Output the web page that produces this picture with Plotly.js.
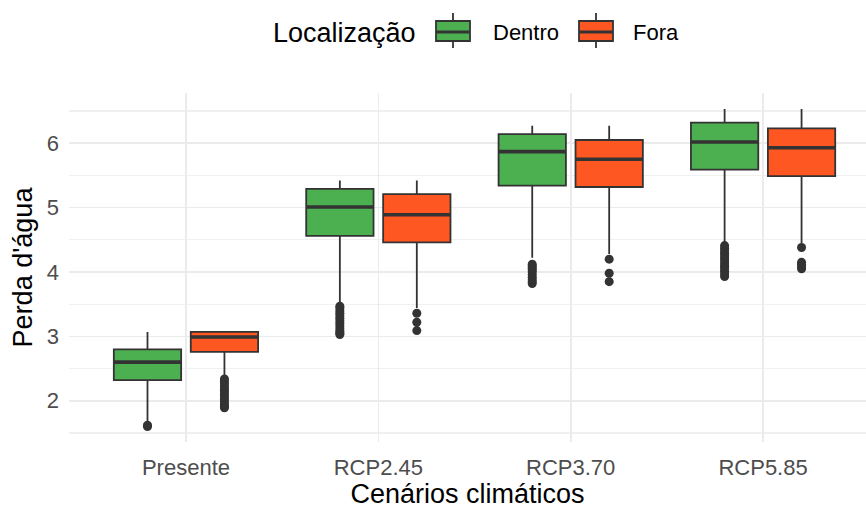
<!DOCTYPE html>
<html>
<head>
<meta charset="utf-8">
<script src="https://cdn.plot.ly/plotly-3.0.1.min.js"></script>
<style>
  html, body { margin: 0; padding: 0; background: #ffffff; }
  #chart { width: 866px; height: 509px; }
</style>
</head>
<body>
<div id="chart"></div>
<script>
// Climate scenarios on the x axis
const categories = ['Presente', 'RCP2.45', 'RCP3.70', 'RCP5.85'];
const seriesNames = ['Dentro', 'Fora'];
const legendTitle = 'Localização';

// Box statistics for "Dentro"
const dentroLower  = [1.68, 3.52, 4.22, 4.45];
const dentroQ1     = [2.32, 4.56, 5.34, 5.59];
const dentroMedian = [2.60, 5.01, 5.87, 6.02];
const dentroQ3     = [2.80, 5.29, 6.14, 6.32];
const dentroUpper  = [3.07, 5.42, 6.27, 6.53];
const dentroOutliers = [
  [1.60, 1.62],
  [3.47, 3.44, 3.40, 3.36, 3.32, 3.28, 3.24, 3.20, 3.16, 3.12, 3.08, 3.05, 3.03],
  [4.12, 4.09, 4.06, 4.03, 4.00, 3.96, 3.92, 3.88, 3.85, 3.82],
  [4.41, 4.37, 4.33, 4.29, 4.25, 4.21, 4.17, 4.13, 4.09, 4.05, 4.01, 3.97, 3.93]
];

// Box statistics for "Fora"
const foraLower  = [2.40, 3.44, 4.28, 4.45];
const foraQ1     = [2.76, 4.46, 5.32, 5.49];
const foraMedian = [2.99, 4.89, 5.75, 5.93];
const foraQ3     = [3.07, 5.21, 6.05, 6.23];
const foraUpper  = [3.08, 5.42, 6.27, 6.53];
const foraOutliers = [
  [2.34, 2.30, 2.26, 2.22, 2.18, 2.14, 2.10, 2.06, 2.02, 1.98, 1.94, 1.91, 1.89],
  [3.36, 3.22, 3.09],
  [4.20, 3.98, 3.85],
  [4.38, 4.15, 4.12, 4.08, 4.05]
];

const fills = ['#4CAF50', '#FF5722'];
const lineColor = '#333333';
const fontFamily = 'Liberation Sans, Arial, sans-serif';

// Plot area in pixels
const M = { l: 69, r: 0, t: 93, b: 67 };
const W = 866, H = 509;
const plotW = W - M.l - M.r, plotH = H - M.t - M.b;
const px = v => (v - M.l) / plotW;          // pixel x -> paper x
const py = v => (H - M.b - v) / plotH;      // pixel y -> paper y

// Grouped box geometry (matches boxgap / boxgroupgap below)
const boxGap = 0.2, boxGroupGap = 0.125;
const slotOffset = [-0.25 * (1 - boxGap), 0.25 * (1 - boxGap)];
const halfWidth = 0.5 * (1 - boxGap) * (1 - boxGroupGap) / 2;

function boxTrace(idx, lower, q1, med, q3, upper, pts) {
  return {
    type: 'box',
    name: seriesNames[idx],
    x: categories,
    y: pts,
    lowerfence: lower,
    q1: q1,
    median: med,
    q3: q3,
    upperfence: upper,
    boxpoints: 'all',
    jitter: 0,
    pointpos: 0,
    whiskerwidth: 0,
    fillcolor: fills[idx],
    line: { color: lineColor, width: 1.8 },
    marker: { color: lineColor, size: 9, line: { width: 0 } },
    showlegend: false,
    hoverinfo: 'skip'
  };
}

const traces = [
  boxTrace(0, dentroLower, dentroQ1, dentroMedian, dentroQ3, dentroUpper, dentroOutliers),
  boxTrace(1, foraLower, foraQ1, foraMedian, foraQ3, foraUpper, foraOutliers)
];

// Thick median bars on top of each box
const shapes = [];
[dentroMedian, foraMedian].forEach((meds, s) => {
  meds.forEach((m, i) => {
    const c = i + slotOffset[s];
    shapes.push({
      type: 'line', xref: 'x', yref: 'y',
      x0: c - halfWidth, x1: c + halfWidth, y0: m, y1: m,
      line: { color: lineColor, width: 3.6 }, layer: 'above'
    });
  });
});

// Legend keys drawn as small boxplots
const keyLeft = [436, 579];
const keyW = 34, keyTop = 21, keyBot = 41, keyMid = 32, whiskTop = 13, whiskBot = 48;
const annotations = [{
  text: legendTitle, xref: 'paper', yref: 'paper',
  x: px(271), y: py(33), xanchor: 'left', yanchor: 'middle', showarrow: false,
  font: { size: 27, family: fontFamily, color: '#000000' }
}];
const labelLeft = [491, 631];
seriesNames.forEach((nm, s) => {
  const x0 = keyLeft[s], xc = x0 + keyW / 2;
  shapes.push({ type: 'line', xref: 'paper', yref: 'paper', x0: px(xc), x1: px(xc), y0: py(whiskTop), y1: py(whiskBot), line: { color: lineColor, width: 1.8 } });
  shapes.push({ type: 'rect', xref: 'paper', yref: 'paper', x0: px(x0), x1: px(x0 + keyW), y0: py(keyTop), y1: py(keyBot), fillcolor: fills[s], line: { color: lineColor, width: 1.8 } });
  shapes.push({ type: 'line', xref: 'paper', yref: 'paper', x0: px(x0), x1: px(x0 + keyW), y0: py(keyMid), y1: py(keyMid), line: { color: lineColor, width: 3 } });
  annotations.push({
    text: nm, xref: 'paper', yref: 'paper',
    x: px(labelLeft[s]), y: py(33), xanchor: 'left', yanchor: 'middle', showarrow: false,
    font: { size: 22, family: fontFamily, color: '#000000' }
  });
});

const layout = {
  width: W,
  height: H,
  margin: M,
  paper_bgcolor: '#ffffff',
  plot_bgcolor: '#ffffff',
  font: { family: fontFamily, color: '#000000' },
  boxmode: 'group',
  boxgap: boxGap,
  boxgroupgap: boxGroupGap,
  showlegend: false,
  shapes: shapes,
  annotations: annotations,
  xaxis: {
    type: 'category',
    categoryorder: 'array',
    categoryarray: categories,
    range: [-0.608, 3.535],
    showgrid: true,
    gridcolor: '#EBEBEB',
    gridwidth: 1.6,
    zeroline: false,
    showline: false,
    ticks: '',
    ticklabelstandoff: 10,
    tickfont: { size: 22, color: '#4D4D4D', family: fontFamily },
    title: { text: 'Cenários climáticos', font: { size: 27, color: '#000000', family: fontFamily }, standoff: 12 }
  },
  yaxis: {
    range: [1.36, 6.78],
    tickvals: [2, 3, 4, 5, 6],
    showgrid: true,
    gridcolor: '#EBEBEB',
    gridwidth: 1.6,
    minor: { tickvals: [1.5, 2.5, 3.5, 4.5, 5.5, 6.5], showgrid: true, gridcolor: '#F0F0F0', gridwidth: 1.3, ticks: '' },
    zeroline: false,
    showline: false,
    ticks: '',
    ticklabelstandoff: 9,
    tickfont: { size: 22, color: '#4D4D4D', family: fontFamily },
    title: { text: "Perda d'água", font: { size: 27, color: '#000000', family: fontFamily }, standoff: 6 }
  }
};

Plotly.newPlot('chart', traces, layout, { staticPlot: true, displayModeBar: false });
</script>
</body>
</html>
